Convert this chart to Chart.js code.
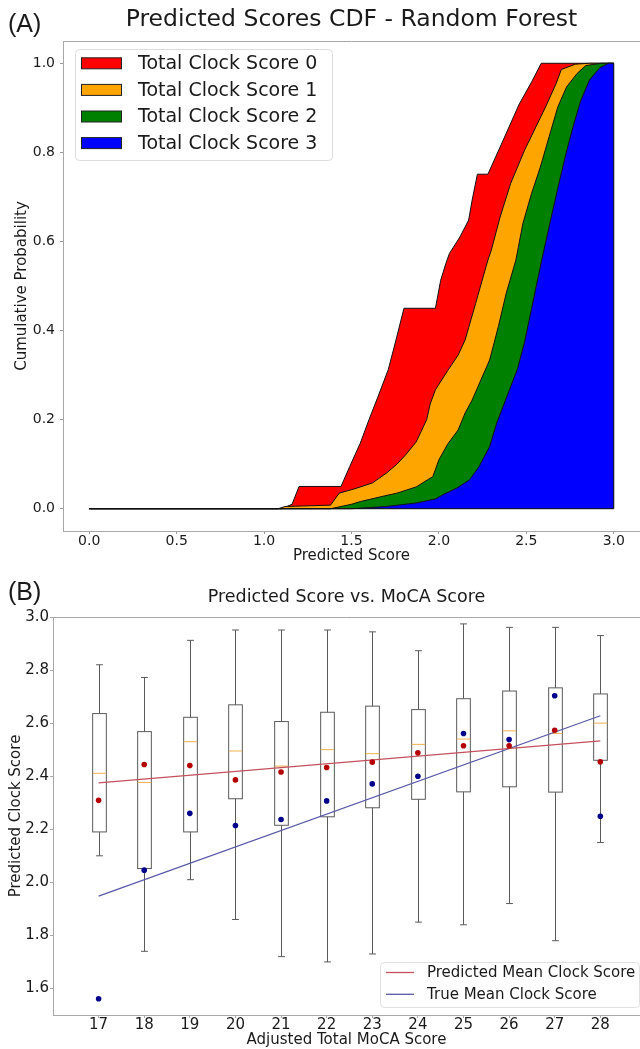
<!DOCTYPE html>
<html><head><meta charset="utf-8">
<script src="https://cdn.jsdelivr.net/npm/chart.js@4.4.0/dist/chart.umd.min.js"></script>
<style>
html,body{margin:0;padding:0;background:#fff;overflow:hidden;width:640px;height:1049px;}
#wa{position:absolute;left:0;top:0;width:640px;height:566px;}
#wb{position:absolute;left:0;top:566px;width:640px;height:483px;}
canvas{display:block;}
</style></head><body>
<div id="wa"><canvas id="ca" width="640" height="566"></canvas></div>
<div id="wb"><canvas id="cb" width="640" height="483"></canvas></div>
<script>
// ================= Panel A data =================
const panelA = '(A)';
const titleA = 'Predicted Scores CDF - Random Forest';
const xTitleA = 'Predicted Score';
const yTitleA = 'Cumulative Probability';
const seriesLabelsA = ['Total Clock Score 0', 'Total Clock Score 1', 'Total Clock Score 2', 'Total Clock Score 3'];
const xTicksA = [0, 0.5, 1, 1.5, 2, 2.5, 3];
const xTickLabelsA = ['0.0', '0.5', '1.0', '1.5', '2.0', '2.5', '3.0'];
const yTicksA = [0, 0.2, 0.4, 0.6, 0.8, 1.0];
const yTickLabelsA = ['0.0', '0.2', '0.4', '0.6', '0.8', '1.0'];

const cdf0X = [0, 1.10, 1.16, 1.20, 1.44, 1.49, 1.55, 1.60, 1.65, 1.71, 1.75, 1.80, 1.98, 2.01, 2.04, 2.06, 2.12, 2.17, 2.19, 2.22, 2.28, 2.35, 2.46, 2.53, 2.585, 3.0];
const cdf0Y = [0, 0, 0.01, 0.05, 0.05, 0.095, 0.147, 0.20, 0.25, 0.312, 0.372, 0.45, 0.45, 0.513, 0.551, 0.573, 0.61, 0.648, 0.693, 0.751, 0.751, 0.812, 0.909, 0.958, 1.0, 1.0];

const cdf1X = [0, 1.08, 1.12, 1.38, 1.43, 1.52, 1.62, 1.70, 1.76, 1.81, 1.87, 1.93, 1.95, 1.98, 2.05, 2.11, 2.15, 2.21, 2.28, 2.30, 2.35, 2.41, 2.49, 2.61, 2.67, 2.70, 2.78, 2.86, 3.0];
const cdf1Y = [0, 0, 0.005, 0.008, 0.035, 0.045, 0.058, 0.08, 0.10, 0.121, 0.15, 0.20, 0.235, 0.267, 0.31, 0.345, 0.379, 0.461, 0.558, 0.581, 0.655, 0.73, 0.805, 0.902, 0.954, 0.986, 0.998, 1.0, 1.0];

const cdf2X = [0, 1.38, 1.50, 1.55, 1.68, 1.76, 1.87, 1.965, 2.00, 2.05, 2.11, 2.15, 2.19, 2.24, 2.29, 2.34, 2.385, 2.44, 2.48, 2.53, 2.58, 2.63, 2.68, 2.73, 2.79, 2.84, 2.93, 3.0];
const cdf2Y = [0, 0, 0.01, 0.016, 0.028, 0.035, 0.049, 0.072, 0.11, 0.145, 0.177, 0.215, 0.244, 0.289, 0.334, 0.409, 0.484, 0.558, 0.64, 0.708, 0.767, 0.835, 0.902, 0.947, 0.977, 0.995, 1.0, 1.0];

const cdf3X = [0, 1.50, 1.70, 1.87, 1.98, 2.03, 2.10, 2.175, 2.23, 2.29, 2.33, 2.37, 2.41, 2.45, 2.49, 2.53, 2.57, 2.61, 2.65, 2.69, 2.73, 2.77, 2.81, 2.86, 2.92, 2.97, 3.0];
const cdf3Y = [0, 0, 0.005, 0.013, 0.022, 0.033, 0.046, 0.065, 0.095, 0.14, 0.192, 0.233, 0.274, 0.315, 0.375, 0.45, 0.525, 0.598, 0.668, 0.737, 0.803, 0.862, 0.915, 0.962, 0.99, 1.0, 1.0];

// ================= Panel B data =================
const panelB = '(B)';
const titleB = 'Predicted Score vs. MoCA Score';
const xTitleB = 'Adjusted Total MoCA Score';
const yTitleB = 'Predicted Clock Score';
const mocaScores  = [17, 18, 19, 20, 21, 22, 23, 24, 25, 26, 27, 28];
const whiskerLow  = [2.10, 1.74, 2.01, 1.86, 1.72, 1.70, 1.73, 1.85, 1.84, 1.92, 1.78, 2.15];
const q1          = [2.19, 2.052, 2.19, 2.315, 2.215, 2.247, 2.281, 2.313, 2.341, 2.36, 2.34, 2.46];
const medians     = [2.411, 2.376, 2.53, 2.495, 2.438, 2.50, 2.485, 2.52, 2.54, 2.571, 2.561, 2.60];
const q3          = [2.636, 2.568, 2.622, 2.669, 2.606, 2.641, 2.664, 2.651, 2.692, 2.721, 2.733, 2.71];
const whiskerHigh = [2.82, 2.772, 2.912, 2.951, 2.951, 2.951, 2.944, 2.873, 2.974, 2.961, 2.961, 2.93];
const predMean    = [2.309, 2.444, 2.44, 2.386, 2.416, 2.433, 2.453, 2.488, 2.515, 2.515, 2.573, 2.454];
const trueMean    = [1.561, 2.046, 2.26, 2.214, 2.237, 2.307, 2.371, 2.40, 2.561, 2.538, 2.703, 2.249];
const fitX        = [17, 28];
const predFitY    = [2.375, 2.533];
const trueFitY    = [1.948, 2.628];
const legendLabelsB = ['Predicted Mean Clock Score', 'True Mean Clock Score'];
const xTicksB = [17, 18, 19, 20, 21, 22, 23, 24, 25, 26, 27, 28];
const xTickLabelsB = ['17', '18', '19', '20', '21', '22', '23', '24', '25', '26', '27', '28'];
const yTicksB = [1.6, 1.8, 2.0, 2.2, 2.4, 2.6, 2.8, 3.0];
const yTickLabelsB = ['1.6', '1.8', '2.0', '2.2', '2.4', '2.6', '2.8', '3.0'];

// ================= Styling =================
const FONT = "'DejaVu Sans', sans-serif";
const PANEL_FONT = "'Liberation Sans', Arial, sans-serif";
const TXT = '#1a1a1a';
const SPINE = '#a8a8a8';
const cdfColors = ['#ff0000', '#ffa500', '#008000', '#0000ff'];
const BOX_COLOR = '#5a5a5a';
const MEDIAN_COLOR = '#f0b050';
const PRED_DOT = '#b40000';
const TRUE_DOT = '#00008b';
const PRED_LINE = '#c4505c';
const TRUE_LINE = '#5858a8';
const BOX_W = 0.3;

const zip = (xs, ys) => xs.map((x, i) => ({x: x, y: ys[i]}));

// ================= Chart A =================
const cdfX = [cdf0X, cdf1X, cdf2X, cdf3X];
const cdfY = [cdf0Y, cdf1Y, cdf2Y, cdf3Y];

const decorA = {
  id: 'decorA',
  afterDatasetsDraw(chart) {
    const {ctx, scales: {x, y}} = chart;
    ctx.save();
    ctx.strokeStyle = '#111';
    ctx.lineWidth = 1;
    ctx.beginPath();
    const y0 = y.getPixelForValue(0);
    ctx.moveTo(x.getPixelForValue(cdf0X[0]), y0);
    ctx.lineTo(x.getPixelForValue(cdf3X[cdf3X.length - 1]), y0);
    const xr = x.getPixelForValue(cdf3X[cdf3X.length - 1]);
    ctx.moveTo(xr, y0);
    ctx.lineTo(xr, y.getPixelForValue(cdf3Y[cdf3Y.length - 1]));
    ctx.stroke();
    ctx.restore();
  },
  afterDraw(chart) {
    const {ctx, chartArea: a} = chart;
    ctx.save();
    ctx.strokeStyle = SPINE; ctx.lineWidth = 1;
    ctx.beginPath(); ctx.moveTo(a.left, Math.round(a.top) + 0.5); ctx.lineTo(a.right, Math.round(a.top) + 0.5); ctx.stroke();
    ctx.fillStyle = TXT;
    ctx.textBaseline = 'middle';
    ctx.textAlign = 'left';
    ctx.font = '25px ' + PANEL_FONT;
    ctx.fillText(panelA, 8, 25);
    ctx.textAlign = 'center';
    ctx.font = '23.5px ' + FONT;
    ctx.fillText(titleA, (a.left + a.right) / 2, 20);
    const lx = 75, ly = 49, lw = 257, lh = 111;
    ctx.fillStyle = 'rgba(255,255,255,0.85)';
    ctx.strokeStyle = '#dcdcdc';
    ctx.beginPath(); ctx.roundRect(lx + 0.5, ly + 0.5, lw, lh, 4); ctx.fill(); ctx.stroke();
    ctx.font = '19px ' + FONT;
    ctx.textAlign = 'left';
    chart.data.datasets.forEach((ds, i) => {
      const ry = 63.3 + i * 26.6;
      ctx.fillStyle = ds.backgroundColor;
      ctx.fillRect(81, ry - 5.5, 40, 11);
      ctx.strokeStyle = '#222';
      ctx.strokeRect(81.5, ry - 5.5, 40, 11);
      ctx.fillStyle = TXT;
      ctx.fillText(ds.label, 138, ry + 1);
    });
    ctx.restore();
  }
};

new Chart(document.getElementById('ca'), {
  type: 'line',
  data: {
    datasets: seriesLabelsA.map((lab, i) => ({
      label: lab,
      data: zip(cdfX[i], cdfY[i]),
      backgroundColor: cdfColors[i],
      borderColor: '#111',
      borderWidth: 1,
      fill: 'origin',
      pointRadius: 0,
      tension: 0,
      order: 3 - i
    }))
  },
  options: {
    responsive: false,
    animation: false,
    layout: {padding: {top: 41, left: 0, right: 0, bottom: 0}, autoPadding: false},
    plugins: {legend: {display: false}, tooltip: {enabled: false}, title: {display: false}},
    scales: {
      x: {
        type: 'linear', min: -0.15, max: 3.15,
        afterBuildTicks: s => { s.ticks = xTicksA.map(v => ({value: v})); },
        afterFit: s => { s.height = 35; },
        ticks: {callback: (v, i) => xTickLabelsA[i], font: {family: FONT, size: 14, lineHeight: 1}, color: TXT, padding: 0, maxRotation: 0, autoSkip: false},
        grid: {drawOnChartArea: false, tickLength: 3, color: '#999'},
        border: {color: SPINE},
        title: {display: true, text: xTitleA, font: {family: FONT, size: 15}, color: TXT, padding: {top: 0, bottom: 1}}
      },
      y: {
        type: 'linear', min: -0.05, max: 1.05,
        afterBuildTicks: s => { s.ticks = yTicksA.map(v => ({value: v})); },
        afterFit: s => { s.width = 63; },
        ticks: {callback: (v, i) => yTickLabelsA[i], font: {family: FONT, size: 14}, color: TXT, padding: 5, autoSkip: false},
        grid: {drawOnChartArea: false, tickLength: 3, color: '#999'},
        border: {color: SPINE},
        title: {display: true, text: yTitleA, font: {family: FONT, size: 15}, color: TXT, padding: {top: 13, bottom: 0}}
      }
    }
  },
  plugins: [decorA]
});

// ================= Chart B =================
const boxPlugin = {
  id: 'boxes',
  beforeDatasetsDraw(chart) {
    const {ctx, scales: {x, y}} = chart;
    ctx.save();
    ctx.lineWidth = 1;
    for (let i = 0; i < mocaScores.length; i++) {
      const cx = Math.round(x.getPixelForValue(mocaScores[i])) + 0.5;
      const hw = x.getPixelForValue(mocaScores[i] + BOX_W / 2) - x.getPixelForValue(mocaScores[i]);
      const cw = hw / 2;
      const yq1 = y.getPixelForValue(q1[i]), yq3 = y.getPixelForValue(q3[i]);
      const ymed = y.getPixelForValue(medians[i]);
      const ylo = y.getPixelForValue(whiskerLow[i]), yhi = y.getPixelForValue(whiskerHigh[i]);
      ctx.strokeStyle = BOX_COLOR;
      ctx.strokeRect(cx - hw, yq3, 2 * hw, yq1 - yq3);
      ctx.beginPath();
      ctx.moveTo(cx, yq3); ctx.lineTo(cx, yhi);
      ctx.moveTo(cx, yq1); ctx.lineTo(cx, ylo);
      ctx.moveTo(cx - cw, yhi); ctx.lineTo(cx + cw, yhi);
      ctx.moveTo(cx - cw, ylo); ctx.lineTo(cx + cw, ylo);
      ctx.stroke();
      ctx.strokeStyle = MEDIAN_COLOR;
      ctx.beginPath(); ctx.moveTo(cx - hw, ymed); ctx.lineTo(cx + hw, ymed); ctx.stroke();
    }
    ctx.restore();
  }
};

const decorB = {
  id: 'decorB',
  afterDraw(chart) {
    const {ctx, chartArea: a} = chart;
    ctx.save();
    ctx.strokeStyle = SPINE; ctx.lineWidth = 1;
    ctx.beginPath(); ctx.moveTo(a.left, Math.round(a.top) + 0.5); ctx.lineTo(a.right, Math.round(a.top) + 0.5); ctx.stroke();
    ctx.fillStyle = TXT;
    ctx.textBaseline = 'middle';
    ctx.textAlign = 'left';
    ctx.font = '25px ' + PANEL_FONT;
    ctx.fillText(panelB, 8, 27);
    ctx.textAlign = 'center';
    ctx.font = '17.5px ' + FONT;
    ctx.fillText(titleB, (a.left + a.right) / 2, 31);
    const lx = 380, ly = 396, lw = 259, lh = 45;
    ctx.fillStyle = 'rgba(255,255,255,0.85)';
    ctx.strokeStyle = '#e0e0e0';
    ctx.beginPath(); ctx.roundRect(lx + 0.5, ly + 0.5, lw, lh, 4); ctx.fill(); ctx.stroke();
    ctx.font = '15px ' + FONT;
    ctx.textAlign = 'left';
    const lineSets = chart.data.datasets.filter(d => d.type === 'line');
    lineSets.forEach((ds, i) => {
      const ry = 406.5 + i * 21.8;
      ctx.strokeStyle = ds.borderColor; ctx.lineWidth = 1.3;
      ctx.beginPath(); ctx.moveTo(386, ry); ctx.lineTo(414, ry); ctx.stroke();
      ctx.fillStyle = TXT;
      ctx.fillText(ds.label, 427, ry + 1);
    });
    ctx.restore();
  }
};

new Chart(document.getElementById('cb'), {
  type: 'scatter',
  data: {
    datasets: [
      {label: 'Predicted mean', data: zip(mocaScores, predMean), backgroundColor: PRED_DOT, borderWidth: 0, pointRadius: 2.8},
      {label: 'True mean', data: zip(mocaScores, trueMean), backgroundColor: TRUE_DOT, borderWidth: 0, pointRadius: 2.8},
      {type: 'line', label: legendLabelsB[0], data: zip(fitX, predFitY), borderColor: PRED_LINE, borderWidth: 1.2, pointRadius: 0, fill: false, tension: 0},
      {type: 'line', label: legendLabelsB[1], data: zip(fitX, trueFitY), borderColor: TRUE_LINE, borderWidth: 1.2, pointRadius: 0, fill: false, tension: 0}
    ]
  },
  options: {
    responsive: false,
    animation: false,
    layout: {padding: {top: 51, left: 0, right: 0, bottom: 0}, autoPadding: false},
    plugins: {legend: {display: false}, tooltip: {enabled: false}, title: {display: false}},
    scales: {
      x: {
        type: 'linear', min: 16, max: 28.87,
        afterBuildTicks: s => { s.ticks = xTicksB.map(v => ({value: v})); },
        afterFit: s => { s.height = 34; },
        ticks: {callback: (v, i) => xTickLabelsB[i], font: {family: FONT, size: 15, lineHeight: 1}, color: TXT, padding: 0, maxRotation: 0, autoSkip: false},
        grid: {drawOnChartArea: false, tickLength: 3, color: '#aaa'},
        border: {color: SPINE},
        title: {display: true, text: xTitleB, font: {family: FONT, size: 15}, color: TXT, padding: {top: 0, bottom: 0}}
      },
      y: {
        type: 'linear', min: 1.5, max: 3.0,
        afterBuildTicks: s => { s.ticks = yTicksB.map(v => ({value: v})); },
        afterFit: s => { s.width = 53; },
        ticks: {callback: (v, i) => yTickLabelsB[i], font: {family: FONT, size: 15}, color: TXT, padding: 1, autoSkip: false},
        grid: {drawOnChartArea: false, tickLength: 3, color: '#aaa'},
        border: {color: SPINE},
        title: {display: true, text: yTitleB, font: {family: FONT, size: 15}, color: TXT, padding: {top: 7, bottom: 0}}
      }
    }
  },
  plugins: [boxPlugin, decorB]
});
</script>
</body></html>
